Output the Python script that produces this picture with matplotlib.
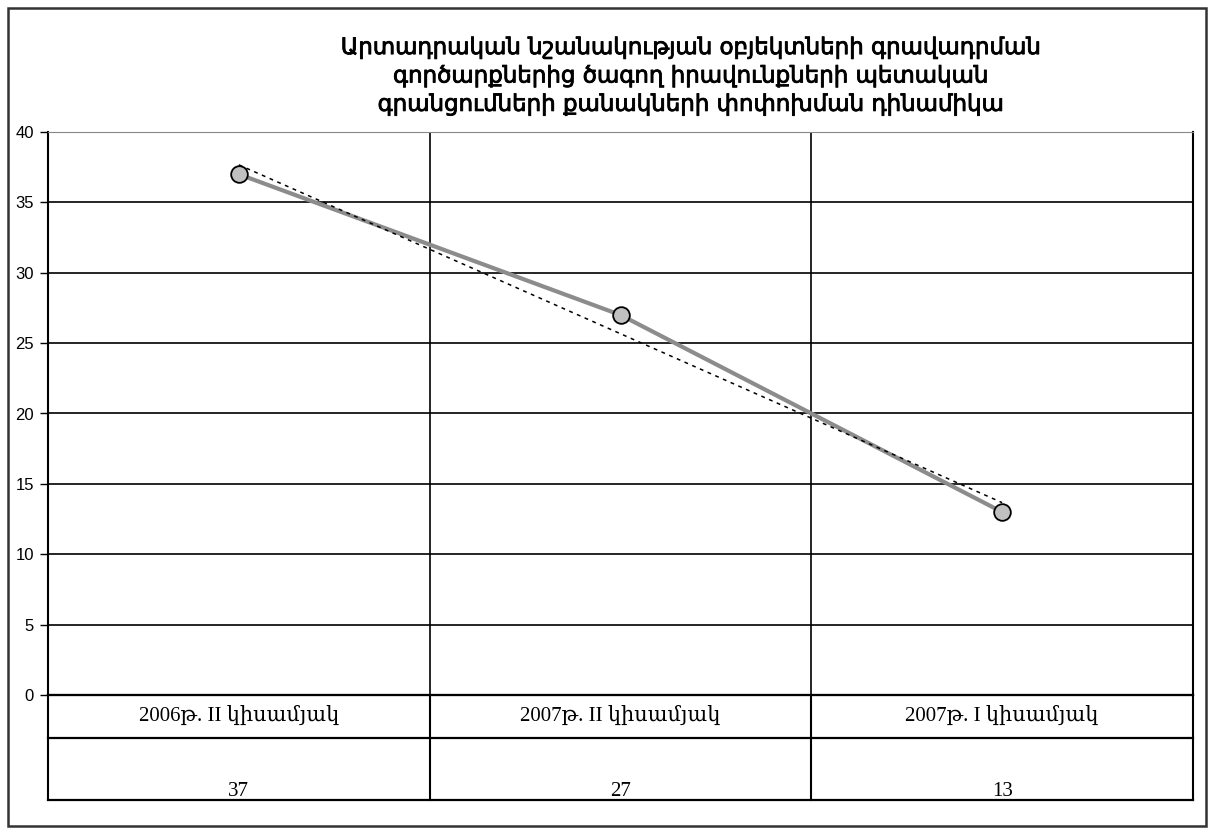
import numpy as np
import matplotlib.pyplot as plt
import matplotlib.patheffects as pe
from matplotlib.patches import Rectangle

# data
categories = ['2006թ. II կիսամյակ', '2007թ. II կիսամյակ', '2007թ. I կիսամյակ']
values = [37, 27, 13]
y_ticks = [0, 5, 10, 15, 20, 25, 30, 35, 40]
title = ('Արտադրական նշանակության օբյեկտների գրավադրման\n'
         'գործարքներից ծագող իրավունքների պետական\n'
         'գրանցումների քանակների փոփոխման դինամիկա')

W, H = 1209, 830
fig = plt.figure(figsize=(W / 100, H / 100), dpi=100)

# outer frame
fig.patches.append(Rectangle((8 / W, 4 / H), 1198 / W, 818 / H, transform=fig.transFigure,
                             fill=False, edgecolor='#333333', linewidth=1.8))

left, right, top, bottom = 48, 1193, 132, 695
ax = fig.add_axes([left / W, (H - bottom) / H, (right - left) / W, (bottom - top) / H])

x = np.arange(len(values))
ax.plot(x, values, color='#8c8c8c', linewidth=3, zorder=3)
ax.plot(x, values, linestyle='none', marker='o', markersize=12,
        markerfacecolor='#c0c0c0', markeredgecolor='black', markeredgewidth=1.3, zorder=4)

# linear trend line
k, b = np.polyfit(x, values, 1)
ax.plot(x, k * x + b, color='black', linestyle=(0, (2.5, 3)), linewidth=1.1, zorder=5)

ax.set_xlim(-0.5, len(values) - 0.5)
ax.set_ylim(0, 40)
ax.set_yticks(y_ticks)
ax.set_xticks([])
for yt in y_ticks[1:]:
    ax.axhline(yt, color='black', linewidth=1.2, zorder=1)
for xv in x[:-1] + 0.5:
    ax.axvline(xv, color='black', linewidth=1.2, zorder=1)
ax.tick_params(axis='y', length=6, width=1, labelsize=12, pad=4)
for lbl in ax.get_yticklabels():
    lbl.set_family('Liberation Sans')
for s in ['left', 'bottom', 'right']:
    ax.spines[s].set_linewidth(1.5)
ax.spines['top'].set_color('#888888')

# data table below the axis
tab = fig.add_axes([left / W, (H - 800) / H, (right - left) / W, 105 / H])
tab.set_xlim(-0.5, len(values) - 0.5)
tab.set_ylim(105, 0)
tab.axis('off')
for yy in [0, 43, 105]:
    tab.plot([-0.5, len(values) - 0.5], [yy, yy], color='black', linewidth=1.6, clip_on=False)
for xv in np.arange(len(values) + 1) - 0.5:
    tab.plot([xv, xv], [0, 105], color='black', linewidth=1.5, clip_on=False)
serif = ['Liberation Serif', 'DejaVu Serif']
for i, (c, v) in enumerate(zip(categories, values)):
    tab.text(i, 21, c, ha='center', va='center', fontsize=15, family=serif)
    tab.text(i, 96, str(v), ha='center', va='center', fontsize=15, family=serif)

fig.text(690 / W, 1 - 76 / H, title, ha='center', va='center', fontsize=16.5,
         family=['DejaVu Sans'], linespacing=1.3,
         path_effects=[pe.withStroke(linewidth=0.6, foreground='black')])

fig.savefig('out.png', dpi=100)
